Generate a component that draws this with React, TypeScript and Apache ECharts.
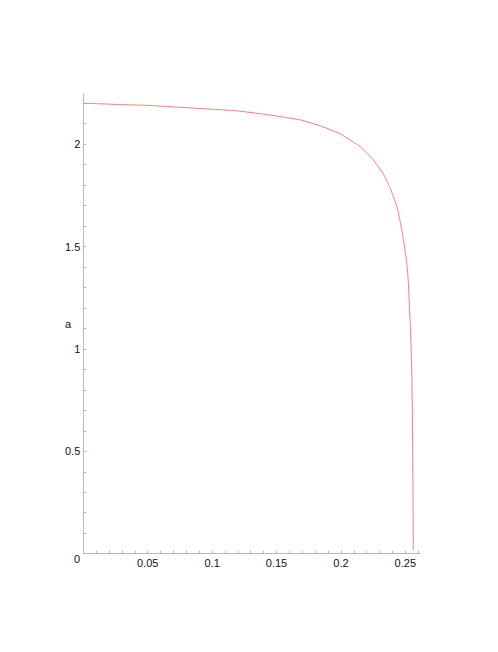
import React, { useEffect, useRef } from "react";
import * as echarts from "echarts";

// curve points (x, a)
const xValues = [0, 0.031, 0.0518, 0.0725, 0.0984, 0.119, 0.1398, 0.1527, 0.1682, 0.1838, 0.1993, 0.2149, 0.2252, 0.2329, 0.2381, 0.2433, 0.2464, 0.249, 0.2511, 0.2523, 0.2536, 0.2544, 0.255, 0.2554, 0.2557, 0.256, 0.2562];
const aValues = [2.2, 2.193, 2.189, 2.181, 2.171, 2.163, 2.147, 2.135, 2.119, 2.09, 2.051, 1.988, 1.923, 1.855, 1.788, 1.7, 1.61, 1.515, 1.42, 1.33, 1.15, 1.02, 0.897, 0.718, 0.507, 0.262, 0.018];

const xLabels = ["0.05", "0.1", "0.15", "0.2", "0.25"];
const yLabels = ["0.5", "1", "1.5", "2"];
const yName = "a";

const FONT = "'Liberation Sans', Arial, sans-serif";

export default function App() {
  const ref = useRef<HTMLDivElement>(null);
  useEffect(() => {
    const chart = echarts.init(ref.current!, null, { renderer: "svg" });
    const data = xValues.map((x, i) => [x, aValues[i]]);
    const fmt = (labels: string[], step: number) => (v: number) => {
      const k = Math.round(v / step);
      if (k < 1 || Math.abs(v / step - k) > 1e-6) return "";
      return labels[k - 1] ?? "";
    };
    const axisCommon = {
      axisLine: { lineStyle: { color: "#b8b8b8", width: 1 } },
      axisTick: { inside: true, length: 3, lineStyle: { color: "#b8b8b8" } },
      splitLine: { show: false },
    };
    chart.setOption({
      animation: false,
      grid: { left: 83.3, right: 78, top: 94, bottom: 98.3, containLabel: false },
      xAxis: {
        type: "value",
        min: 0,
        max: 0.2614,
        interval: 0.01,
        ...axisCommon,
        axisLabel: {
          formatter: fmt(xLabels, 0.05),
          margin: 4,
          color: "#111",
          fontFamily: FONT,
          fontSize: 11,
          showMinLabel: false,
          showMaxLabel: false,
        },
      },
      yAxis: {
        type: "value",
        min: 0,
        max: 2.245,
        interval: 0.1,
        ...axisCommon,
        axisLabel: {
          formatter: fmt(yLabels, 0.5),
          margin: 3,
          color: "#111",
          fontFamily: FONT,
          fontSize: 11,
          showMinLabel: false,
          showMaxLabel: false,
        },
      },
      graphic: [
        {
          type: "text",
          left: 74,
          top: 553,
          style: { text: "0", fill: "#111", font: `11px ${FONT}` },
        },
        {
          type: "text",
          left: 65,
          top: 318,
          style: { text: yName, fill: "#111", font: `11px ${FONT}` },
        },
      ],
      series: [
        {
          type: "line",
          data,
          showSymbol: false,
          smooth: 0.15,
          lineStyle: { color: "#ff7a7a", width: 1 },
        },
      ],
    });
    return () => chart.dispose();
  }, []);
  return (
    <div
      ref={ref}
      style={{ position: "fixed", left: 0, top: 0, width: 498, height: 652, background: "#fff" }}
    />
  );
}
